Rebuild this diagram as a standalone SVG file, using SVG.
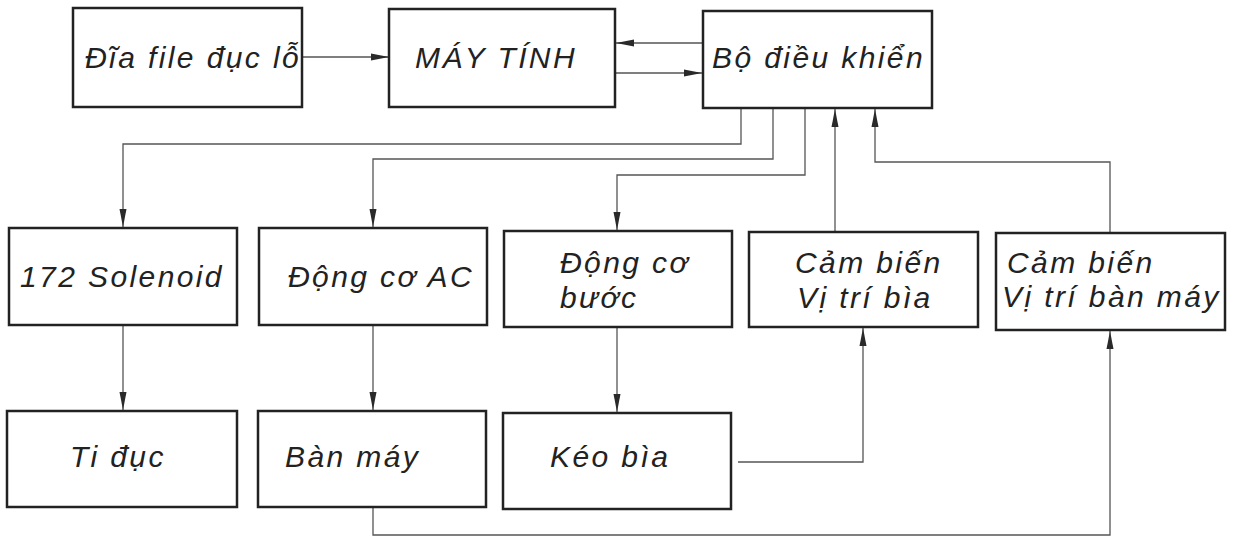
<svg xmlns="http://www.w3.org/2000/svg" width="1233" height="539" viewBox="0 0 1233 539">
<style>
.box{fill:#fff;stroke:#222;stroke-width:2.5}
.t{font-family:"Liberation Sans",Arial,sans-serif;font-style:italic;font-size:30px;fill:#222;letter-spacing:2.4px}
.c{fill:none;stroke:#555;stroke-width:1.3}
</style>
<defs>
<marker id="ah" viewBox="0 0 18 8" refX="18" refY="4" markerWidth="18" markerHeight="8" markerUnits="userSpaceOnUse" orient="auto">
<path d="M0,0.5 L18,4 L0,7.5 Z" fill="#2a2a2a"/>
</marker>
</defs>
<rect width="1233" height="539" fill="#fff"/>
<g id="connectors">
<path class="c" d="M302,57 H389" marker-end="url(#ah)"/>
<path class="c" d="M703,43 H616" marker-end="url(#ah)"/>
<path class="c" d="M616,73 H702" marker-end="url(#ah)"/>
<path class="c" d="M741,109 V144 H123 V227" marker-end="url(#ah)"/>
<path class="c" d="M773,109 V159 H373 V227" marker-end="url(#ah)"/>
<path class="c" d="M805,109 V175 H617 V230" marker-end="url(#ah)"/>
<path class="c" d="M835,231 V109" marker-end="url(#ah)"/>
<path class="c" d="M1110,232 V162 H875 V109" marker-end="url(#ah)"/>
<path class="c" d="M123,326 V410" marker-end="url(#ah)"/>
<path class="c" d="M373,326 V410" marker-end="url(#ah)"/>
<path class="c" d="M617,328 V412" marker-end="url(#ah)"/>
<path class="c" d="M738,462 H863 V328" marker-end="url(#ah)"/>
<path class="c" d="M373,508 V535 H1110 V331" marker-end="url(#ah)"/>
</g>
<g id="n-dia"><rect class="box" x="73" y="8" width="229" height="99"/><text class="t" x="85" y="68">Đĩa file đục lỗ</text></g>
<g id="n-maytinh"><rect class="box" x="389" y="9" width="226" height="98"/><text class="t" x="415" y="68">MÁY TÍNH</text></g>
<g id="n-bodieukhien"><rect class="box" x="703" y="11" width="229" height="97"/><text class="t" x="712" y="68">Bộ điều khiển</text></g>
<g id="n-solenoid"><rect class="box" x="9" y="228" width="228" height="97"/><text class="t" x="20" y="287">172 Solenoid</text></g>
<g id="n-dongcoac"><rect class="box" x="259" y="228" width="228" height="97"/><text class="t" x="288" y="287">Động cơ AC</text></g>
<g id="n-dongcobuoc"><rect class="box" x="504" y="231" width="228" height="96"/><text class="t" x="560" y="273">Động cơ</text><text class="t" x="560" y="308">bước</text></g>
<g id="n-cambienbia"><rect class="box" x="749" y="232" width="229" height="95"/><text class="t" x="795" y="273">Cảm biến</text><text class="t" x="797" y="308">Vị trí bìa</text></g>
<g id="n-cambienban"><rect class="box" x="996" y="233" width="229" height="97"/><text class="t" x="1007" y="273">Cảm biến</text><text class="t" x="1002" y="307">Vị trí bàn máy</text></g>
<g id="n-tiduc"><rect class="box" x="7" y="411" width="230" height="96"/><text class="t" x="70" y="467">Ti đục</text></g>
<g id="n-banmay"><rect class="box" x="258" y="411" width="228" height="96"/><text class="t" x="285" y="467">Bàn máy</text></g>
<g id="n-keobia"><rect class="box" x="503" y="413" width="228" height="96"/><text class="t" x="550" y="467">Kéo bìa</text></g>
</svg>
